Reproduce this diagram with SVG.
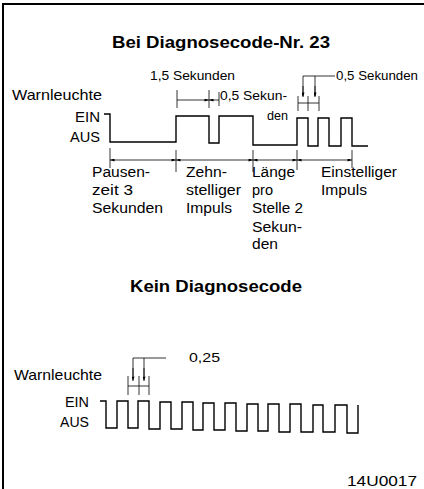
<svg xmlns="http://www.w3.org/2000/svg" width="424" height="489" viewBox="0 0 424 489">
<defs>
<style>
text{font-family:"Liberation Sans",Arial,sans-serif;fill:#000}
.t{font-weight:bold;font-size:17px}
.s{font-size:13px}
.m{font-size:14px}
.w{font-size:15px}
.wave{fill:none;stroke:#000;stroke-width:1.4}
.dim{fill:none;stroke:#000;stroke-width:0.8}
.frame{fill:none;stroke:#000;stroke-width:2}
</style>
<marker id="ae" viewBox="0 0 6 4" refX="6" refY="2" markerWidth="5" markerHeight="3" markerUnits="userSpaceOnUse" orient="auto">
<path d="M0,0 L6,2 L0,4 Z" fill="#000"/>
</marker>
<marker id="as" viewBox="0 0 6 4" refX="0" refY="2" markerWidth="5" markerHeight="3" markerUnits="userSpaceOnUse" orient="auto">
<path d="M6,0 L0,2 L6,4 Z" fill="#000"/>
</marker>
</defs>
<rect width="424" height="489" fill="#fff"/>
<path class="frame" d="M3,489 V4 H424"/>

<g id="top-section">
<text class="t" x="112" y="48" textLength="218" lengthAdjust="spacingAndGlyphs">Bei Diagnosecode-Nr. 23</text>
<text class="w" x="12" y="100" textLength="90" lengthAdjust="spacingAndGlyphs">Warnleuchte</text>
<text class="m" x="75" y="122" textLength="25" lengthAdjust="spacingAndGlyphs">EIN</text>
<text class="m" x="70" y="142" textLength="30" lengthAdjust="spacingAndGlyphs">AUS</text>
<text class="s" x="150" y="80" textLength="85" lengthAdjust="spacingAndGlyphs">1,5 Sekunden</text>
<text class="s" x="336" y="80" textLength="82" lengthAdjust="spacingAndGlyphs">0,5 Sekunden</text>
<text class="s" x="220" y="100" textLength="67" lengthAdjust="spacingAndGlyphs">0,5 Sekun-</text>
<text class="s" x="267" y="120" textLength="21" lengthAdjust="spacingAndGlyphs">den</text>

<g id="top-wave">
<path class="wave" d="M104,114 H110 V142 H176 V116 H209 V143 H219 V116 H253 V145 H297 V118 H308 V146 H318 V118 H329 V146 H341 V118 H352 V146 H368"/>
</g>

<g id="top-dimensions">
<path class="dim" d="M177,90 V108 M209,90 V108 M219,92 V106"/>
<line class="dim" x1="177" y1="100" x2="209" y2="100" marker-end="url(#ae)"/>
<line class="dim" x1="209" y1="100" x2="219" y2="100" marker-start="url(#as)"/>
<path class="dim" d="M335,76 H303 V96 M315,76 V96"/>
<line class="dim" x1="303" y1="86" x2="303" y2="97" marker-end="url(#ae)"/>
<line class="dim" x1="315" y1="86" x2="315" y2="97" marker-end="url(#ae)"/>
<path class="dim" d="M298,96 V111 M308,96 V111 M319,96 V111 M298,103 H319"/>
<path class="dim" d="M110,148 V168 M176,150 V172 M253,150 V172 M297,150 V170 M352,150 V168"/>
<line class="dim" x1="110" y1="160" x2="176" y2="160" marker-start="url(#as)" marker-end="url(#ae)"/>
<line class="dim" x1="176" y1="160" x2="253" y2="160" marker-start="url(#as)" marker-end="url(#ae)"/>
<line class="dim" x1="253" y1="160" x2="297" y2="160" marker-start="url(#as)" marker-end="url(#ae)"/>
<line class="dim" x1="297" y1="160" x2="352" y2="160" marker-start="url(#as)" marker-end="url(#ae)"/>
</g>

<g id="top-labels">
<text class="m" x="92" y="177" textLength="58" lengthAdjust="spacingAndGlyphs">Pausen-</text>
<text class="m" x="92" y="195" textLength="41" lengthAdjust="spacingAndGlyphs">zeit 3</text>
<text class="m" x="92" y="213" textLength="71" lengthAdjust="spacingAndGlyphs">Sekunden</text>
<text class="m" x="186" y="177" textLength="41" lengthAdjust="spacingAndGlyphs">Zehn-</text>
<text class="m" x="186" y="195" textLength="55" lengthAdjust="spacingAndGlyphs">stelliger</text>
<text class="m" x="186" y="213" textLength="46" lengthAdjust="spacingAndGlyphs">Impuls</text>
<text class="m" x="252" y="177" textLength="43" lengthAdjust="spacingAndGlyphs">Länge</text>
<text class="m" x="252" y="195" textLength="21" lengthAdjust="spacingAndGlyphs">pro</text>
<text class="m" x="252" y="213" textLength="51" lengthAdjust="spacingAndGlyphs">Stelle 2</text>
<text class="m" x="252" y="232" textLength="50" lengthAdjust="spacingAndGlyphs">Sekun-</text>
<text class="m" x="252" y="249" textLength="26" lengthAdjust="spacingAndGlyphs">den</text>
<text class="m" x="321" y="177" textLength="76" lengthAdjust="spacingAndGlyphs">Einstelliger</text>
<text class="m" x="321" y="195" textLength="46" lengthAdjust="spacingAndGlyphs">Impuls</text>
</g>
</g>

<g id="bottom-section">
<text class="t" x="130" y="292" textLength="172" lengthAdjust="spacingAndGlyphs">Kein Diagnosecode</text>
<text class="s" x="189" y="362" textLength="31" lengthAdjust="spacingAndGlyphs">0,25</text>
<text class="w" x="14" y="380" textLength="88" lengthAdjust="spacingAndGlyphs">Warnleuchte</text>
<text class="m" x="65" y="407" textLength="24" lengthAdjust="spacingAndGlyphs">EIN</text>
<text class="m" x="60" y="427" textLength="29" lengthAdjust="spacingAndGlyphs">AUS</text>

<g id="bottom-dimensions">
<path class="dim" d="M166,358 H133 V376 M144,358 V376"/>
<line class="dim" x1="133" y1="368" x2="133" y2="381" marker-end="url(#ae)"/>
<line class="dim" x1="144" y1="368" x2="144" y2="381" marker-end="url(#ae)"/>
<path class="dim" d="M128,376 V395 M139,376 V395 M149,376 V395 M128,386 H149"/>
</g>

<g id="bottom-wave">
<path class="wave" d="M100,401 H106 V428 H117 V401 H128 V428 H138 V401 H149 V429 H160 V402 H171 V429 H182 V402 H193 V430 H203 V403 H214 V430 H225 V403 H236 V431 H247 V404 H258 V431 H268 V404 H279 V432 H290 V404 H301 V432 H313 V405 H323 V432 H335 V405 H347 V433 H358 V405"/>
</g>

<text class="m" x="347" y="486" textLength="70" lengthAdjust="spacingAndGlyphs">14U0017</text>
</g>
</svg>
